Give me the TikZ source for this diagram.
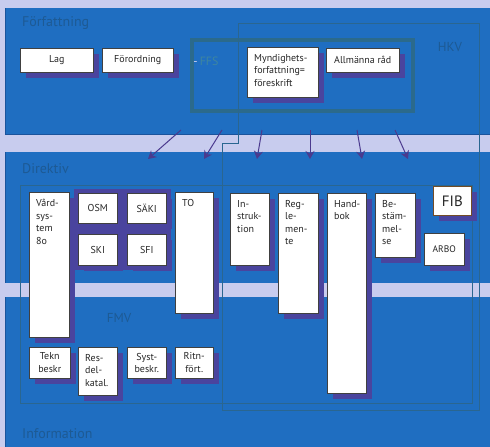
\documentclass[tikz,border=0pt]{standalone}
\usepackage{fontspec}
\setmainfont{PT Sans}
\usetikzlibrary{shadows,arrows.meta}
\definecolor{bg}{HTML}{C8CCEE}
\definecolor{bandc}{HTML}{1F6EC1}
\definecolor{bandline}{HTML}{1A539C}
\definecolor{shad}{HTML}{4A449E}
\definecolor{framec}{HTML}{2A6690}
\definecolor{ffsc}{HTML}{2B6A8C}
\definecolor{ffstext}{HTML}{3E86A0}
\definecolor{titlec}{HTML}{1D5A94}
\definecolor{arr}{HTML}{4B3A8E}
\newcommand\bx[7][]{\node[wbox,anchor=north west,minimum width={#5-#3},minimum height={#6-#4},#1] (#2) at (#3,#4) {#7};}
\newcommand\tbx[6]{\node[wbox,anchor=north west,minimum width={#4-#2},minimum height={#5-#3}] (#1) at (#2,#3) {};
  \node[txt,anchor=north west] (#1t) at ([shift={(7,7)}]#1.north west) {#6};}
\begin{document}
\begin{tikzpicture}[x=1pt,y=-1pt,
 wbox/.style={draw=black!75,line width=0.5pt,fill=white,inner sep=0pt,
   drop shadow={shadow xshift=6pt,shadow yshift=-6pt,fill=shad,opacity=1},
   font=\fontsize{10}{12.5}\selectfont,text=black!85,align=center},
 txt/.style={inner sep=0pt,font=\fontsize{10}{12.5}\selectfont,text=black!85,align=left},
 ttl/.style={inner sep=0pt,text=titlec,font=\fontsize{14}{16}\selectfont,anchor=west},
 frm/.style={draw=framec,line width=1pt},
 arrow/.style={draw=arr,line width=1pt,-{Stealth[length=8pt,width=9pt]}},
]
\useasboundingbox (0,0) rectangle (490,447);
\fill[bg] (0,0) rectangle (490,447);
% bands
\fill[bandc] (5,8) rectangle (490,135);
\draw[bandline,line width=1.2pt] (5,134.5) -- (490,134.5);
\draw[bandline,line width=0.8pt] (5.4,8) -- (5.4,135);
\fill[bandc] (5,152) rectangle (490,283);
\draw[bandline,line width=0.8pt] (5.4,152) -- (5.4,283);
\fill[bandc] (5,297) rectangle (490,447);
\draw[bandline,line width=0.8pt] (5.4,297) -- (5.4,447);
% titles
\node[ttl] (tforf) at (22,23) {Författning};
\node[ttl] (tdir) at (22,169) {Direktiv};
\node[ttl] (tinfo) at (22,434) {Information};
\node[ttl,anchor=center,font=\fontsize{13}{15}\selectfont] (thkv) at (450,47) {HKV};
\node[ttl,anchor=center,font=\fontsize{13}{15}\selectfont] (tfmv) at (119,318) {FMV};
% frames
\draw[ffsc,line width=4pt] (192,40) rectangle (413,111);
\node[ttl,anchor=center,text=ffstext,font=\fontsize{12}{14}\selectfont] (tffs) at (206,61) {\textcolor{bg}{-}\,FFS};
\draw[frm] (238,143) -- (238,23) -- (479,23) -- (479,410) -- (222,410) -- (222,143) -- cycle;
\draw[frm] (20,185) rectangle (472,403);
% Forfattning boxes
\bx{lag}{20}{48}{93}{72}{Lag}
\bx{foror}{102}{48}{173}{72}{Förordning}
\tbx{mynd}{247}{47}{318}{97}{Myndighets-\\forfattning=\\föreskrift}
\bx{allm}{326}{48}{399}{72}{Allmänna råd}
% Direktiv boxes
\fill[shad] (74,189) rectangle (171,270);
\tbx{vard}{29}{192}{69}{337}{Vård-\\sys-\\tem\\8o}
\bx{osm}{78}{193}{117}{223}{OSM}
\bx{saki}{127}{193}{166}{223}{SÄKI}
\bx{ski}{78}{234}{117}{265}{SKI}
\bx{sfi}{127}{234}{166}{265}{SFI}
\tbx{to}{175}{192}{213}{313}{TO}
\tbx{instr}{230}{193}{269}{265}{In-\\struk-\\tion}
\tbx{regl}{278}{193}{318}{313}{Reg-\\le-\\men-\\te}
\tbx{hand}{327}{193}{366}{393}{Hand-\\bok}
\tbx{best}{375}{193}{415}{257}{Be-\\stäm-\\mel-\\se}
\bx[draw=brown!60!black,line width=0.8pt,font=\fontsize{15}{17}\selectfont]{fib}{433}{186}{471}{215}{FIB}
\bx[font=\fontsize{9.5}{11}\selectfont]{arbo}{424}{233}{464}{265}{ARBO}
% FMV boxes
\bx{tekn}{29}{347}{70}{378}{Tekn\\beskr}
\tbx{resd}{78}{347}{117}{395}{Res-\\del-\\katal.}
\bx{syst}{127}{347}{166}{378}{Syst-\\beskr.}
\bx{ritn}{175}{347}{213}{378}{Ritn-\\fört.}
% arrows
\coordinate (s1) at (181,130); \coordinate (e1) at (148,159);
\coordinate (s2) at (222,130); \coordinate (e2) at (204,159);
\coordinate (s3) at (262,130); \coordinate (e3) at (257,159);
\coordinate (s4) at (310,130); \coordinate (e4) at (310,159);
\coordinate (s5) at (357,130); \coordinate (e5) at (362,159);
\coordinate (s6) at (395,130); \coordinate (e6) at (408,159);
\foreach \i in {1,...,6} {\draw[arrow] (s\i) -- (e\i);}
\end{tikzpicture}
\end{document}
